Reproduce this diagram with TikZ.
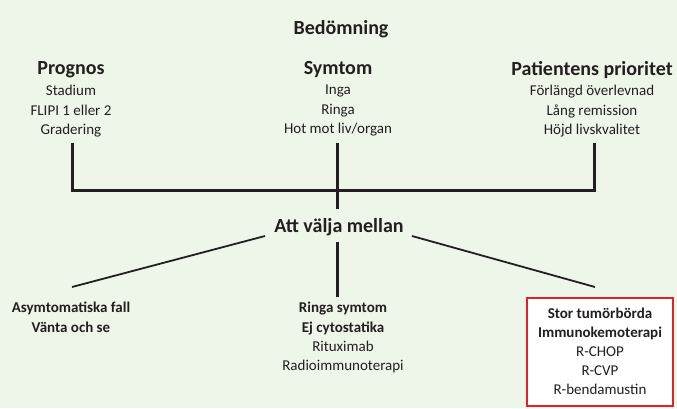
\documentclass[tikz,border=0pt]{standalone}
\usepackage{fontspec}
\setmainfont{Carlito}
\definecolor{bg}{RGB}{238,246,234}
\definecolor{ink}{RGB}{35,31,32}
\definecolor{boxred}{RGB}{228,32,42}
\begin{document}
\begin{tikzpicture}[x=1pt, y=-1pt, head/.style={font=\bfseries\fontsize{20}{22}\selectfont, text=ink, inner sep=0pt}, item/.style={font=\fontsize{15}{19.5}\selectfont, text=ink, align=center, inner sep=0pt}, note/.style={font=\bfseries\fontsize{15}{20}\selectfont, text=ink, align=center, inner sep=0pt}, bar/.style={draw=ink, line width=3pt}, link/.style={draw=ink, line width=1.8pt}, redbox/.style={draw=boxred, line width=2.2pt, fill=white, minimum width=146pt, minimum height=108pt, inner sep=0pt}]
      \fill[bg] (0,0) rectangle (677,408);
      \useasboundingbox (0,0) rectangle (677,408);

      \node[head] (assess) at (341, 29) {Bedömning};

      \node[head] (prog) at (71, 70) {Prognos};
      \node[head] (sym) at (338, 70) {Symtom};
      \node[head] (prio) at (592, 70) {Patientens prioritet};

      \node[item, anchor=north] (progitems) at (71, 85) {Stadium\\FLIPI 1 eller 2\\Gradering};
      \node[item, anchor=north] (symitems) at (338, 85) {Inga\\Ringa\\Hot mot liv/organ};
      \node[item, anchor=north] (prioitems) at (592, 85) {Förlängd överlevnad\\Lång remission\\Höjd livskvalitet};

      \node[head] (choice) at (339, 227) {Att välja mellan};

      \node[note, anchor=north] (wait) at (71, 302) {Asymtomatiska fall\\Vänta och se};
      \node[note, anchor=north] (mild) at (343, 302) {Ringa symtom\\Ej cytostatika\\[-1pt]\mdseries Rituximab\\[-1pt]\mdseries Radioimmunoterapi};
      \node[redbox] (bulk) at (600, 352) {};
      \node[note, anchor=north] (bulktext) at (600, 308) {Stor tumörbörda\\[-1pt]Immunokemoterapi\\[-1pt]\mdseries R-CHOP\\[-1pt]\mdseries R-CVP\\[-1pt]\mdseries R-bendamustin};

      % joining bar
      \coordinate (progfoot) at (72, 143);
      \coordinate (symfoot) at (337, 143);
      \coordinate (priofoot) at (594, 143);
      \coordinate (barleft) at (72, 190);
      \coordinate (barright) at (594, 190);
      \coordinate (choicetop) at (337, 209);
      \draw[bar] (progfoot) -- (barleft) -- (barright) -- (priofoot);
      \draw[bar] (symfoot) -- (choicetop);

      % branches
      \coordinate (choicel) at (265, 236);
      \coordinate (choicem) at (337, 242);
      \coordinate (choicer) at (412, 236);
      \coordinate (waittop) at (72, 287);
      \coordinate (mildtop) at (337, 297);
      \coordinate (bulktop) at (595, 287);
      \draw[link] (choicel) -- (waittop);
      \draw[bar] (choicem) -- (mildtop);
      \draw[link] (choicer) -- (bulktop);
    \end{tikzpicture}
\end{document}
